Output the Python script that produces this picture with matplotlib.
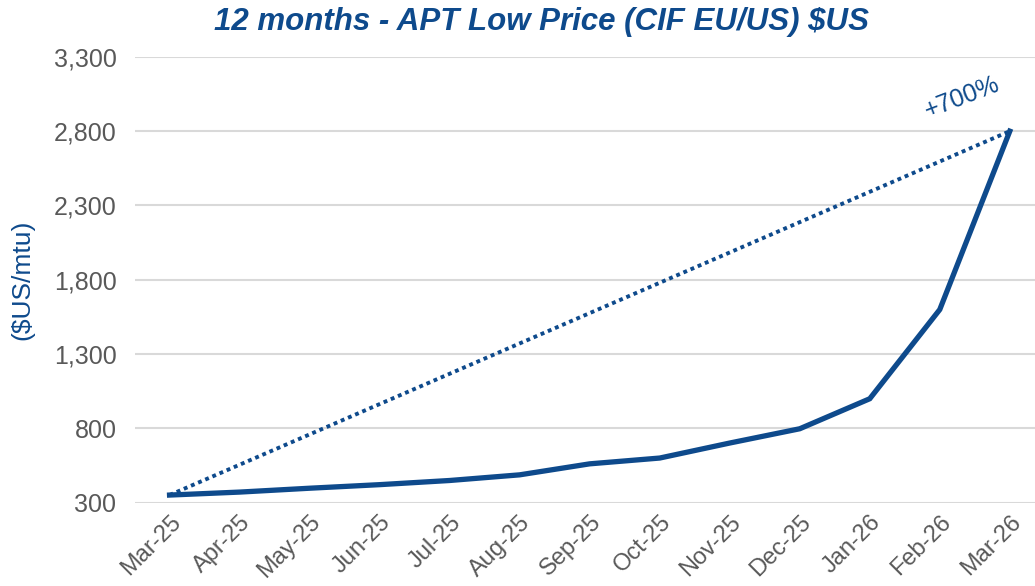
import matplotlib.pyplot as plt

months = ["Mar-25", "Apr-25", "May-25", "Jun-25", "Jul-25", "Aug-25", "Sep-25",
          "Oct-25", "Nov-25", "Dec-25", "Jan-26", "Feb-26", "Mar-26"]
price = [352, 372, 398, 422, 450, 488, 562, 601, 702, 798, 1000, 1600, 2800]
yticks = [300, 800, 1300, 1800, 2300, 2800, 3300]

blue = "#0E4A8C"
grey = "#595959"

plt.rcParams['font.family'] = ['Liberation Sans', 'DejaVu Sans']

fig = plt.figure(figsize=(10.35, 5.86), dpi=100)
ax = fig.add_axes([0.130, 0.142, 0.87, 0.761])

x = list(range(len(months)))
ax.plot(x, price, color=blue, lw=3.8, solid_joinstyle="miter", zorder=3)
ax.plot([x[0], x[-1]], [price[0], price[-1]], color=blue, lw=2.8,
        linestyle=(0, (1, 1)), zorder=2)

pct = (price[-1] / price[0] - 1) * 100
ax.text(x[-1] - 0.68, price[-1] + 55, "+%d%%" % round(pct, -2), color=blue,
        fontsize=18, rotation=21, ha="center", va="bottom")

ax.set_xlim(-0.5, 12.36)
ax.set_ylim(300, 3300)
ax.set_yticks(yticks)
ax.set_yticklabels(["{:,}".format(v) for v in yticks])
ax.set_xticks(x)
ax.set_xticklabels(months, rotation=45, ha="right", rotation_mode="anchor")
ax.tick_params(length=0, colors=grey)
ax.tick_params(axis="y", pad=13, labelsize=18)
ax.tick_params(axis="x", pad=6, labelsize=17)
ax.grid(axis="y", color="#D9D9D9", lw=1.5)
ax.set_axisbelow(True)
for s in ax.spines.values():
    s.set_visible(False)

ax.set_ylabel("($US/mtu)", color=blue, fontsize=19, labelpad=14)
fig.text(0.523, 0.962, "12 months - APT Low Price (CIF EU/US) $US", color=blue,
         fontsize=22.5, fontweight="bold", fontstyle="italic", ha="center", va="center")

fig.savefig("out.png", dpi=100)
